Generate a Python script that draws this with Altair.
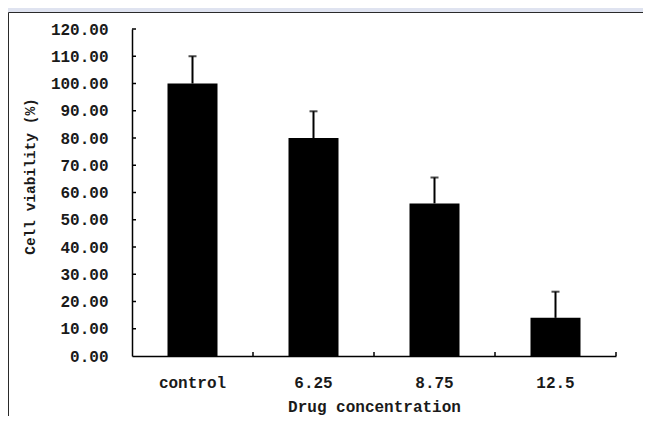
import altair as alt
import pandas as pd

categories = ["control", "6.25", "8.75", "12.5"]
means = [100.0, 80.0, 56.0, 14.0]
errors = [10.0, 9.8, 9.5, 9.6]
y_ticks = [0, 10, 20, 30, 40, 50, 60, 70, 80, 90, 100, 110, 120]

df = pd.DataFrame({"cat": categories, "mean": means, "err": errors})
df["upper"] = df["mean"] + df["err"]
ticks_df = pd.DataFrame({"v": y_ticks[1:]})
xtick_df = pd.DataFrame({"cat": categories[1:]})

W, H = 484, 327
FONT = "Liberation Mono"
xscale = alt.Scale(domain=categories, paddingInner=0, paddingOuter=0)
yscale = alt.Scale(domain=[0, 120], nice=False)

x_axis = alt.Axis(title="Drug concentration", labelAngle=0, ticks=False,
                  labelPadding=18, titlePadding=8, zindex=1, labelOverlap=False,
                  titleFontSize=16)
y_axis = alt.Axis(title="Cell viability (%)", values=y_ticks, format=".2f",
                  ticks=False, labelPadding=24, titleX=-102, titleY=147,
                  titleAngle=-90, titleBaseline="middle", titleAlign="center",
                  zindex=1, labelOverlap=False, titleFontSize=14.5)

panel = alt.Chart(pd.DataFrame({"a": [0]})).mark_rect(
    fill="white", stroke="#2a2a2a", strokeWidth=1, clip=False
).encode(
    x=alt.value(-123.5), x2=alt.value(W + 200),
    y=alt.value(-16.5), y2=alt.value(H + 200),
)

base = alt.Chart(df)

bars = base.mark_bar(size=50, color="black").encode(
    x=alt.X("cat:N", scale=xscale, sort=categories, axis=x_axis, title="Drug concentration"),
    y=alt.Y("mean:Q", scale=yscale, axis=y_axis, title="Cell viability (%)"),
)

err_rule = base.mark_rule(color="black", strokeWidth=2).encode(
    x=alt.X("cat:N", scale=xscale, sort=categories, axis=x_axis, title="Drug concentration"),
    y=alt.Y("mean:Q", scale=yscale, axis=y_axis, title="Cell viability (%)"),
    y2="upper:Q",
)
err_cap = base.mark_tick(color="black", size=8, thickness=2).encode(
    x=alt.X("cat:N", scale=xscale, sort=categories, axis=x_axis, title="Drug concentration"),
    y=alt.Y("upper:Q", scale=yscale, axis=y_axis, title="Cell viability (%)"),
)

ytick_marks = alt.Chart(ticks_df).mark_rule(color="black", strokeWidth=1.5).encode(
    y=alt.Y("v:Q", scale=yscale, axis=y_axis, title="Cell viability (%)"),
    x=alt.value(0), x2=alt.value(4),
)
xtick_marks = alt.Chart(xtick_df).mark_rule(color="black", strokeWidth=1.5).encode(
    x=alt.X("cat:N", scale=xscale, sort=categories, bandPosition=0, axis=x_axis,
            title="Drug concentration"),
    y=alt.value(H), y2=alt.value(H - 4),
)
xtick_end = alt.Chart(pd.DataFrame({"a": [0]})).mark_rule(color="black", strokeWidth=1.5).encode(
    x=alt.value(W), y=alt.value(H), y2=alt.value(H - 4),
)

chart = alt.layer(panel, bars, err_rule, err_cap, ytick_marks, xtick_marks, xtick_end).properties(
    width=W, height=H,
    background="#dfe3f0",
    padding={"left": 124, "top": 21, "right": 27, "bottom": 60},
    autosize=alt.AutoSizeParams(type="none"),
).configure_view(stroke=None).configure_axis(
    domainColor="black", domainWidth=1.5, grid=False, labelOverlap=False,
    labelFont=FONT, labelFontSize=16, labelColor="#1a1a1a", labelFontWeight="bold",
    titleFont=FONT, titleColor="#1a1a1a", titleFontWeight="bold",
)

chart.save("out.html", embed_options={"renderer": "svg", "actions": False})
